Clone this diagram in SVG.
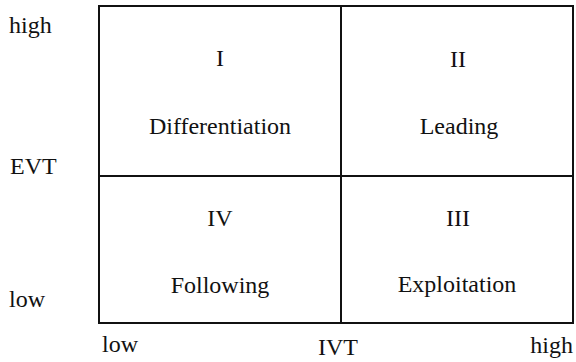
<svg xmlns="http://www.w3.org/2000/svg" width="576" height="362" viewBox="0 0 576 362">
<style>
text{font-family:"Liberation Serif","Times New Roman",serif;font-size:24px;fill:#111}
.c{text-anchor:middle}
.ln{stroke:#111;stroke-width:2;fill:none}
</style>
<rect width="576" height="362" fill="#fff"/>
<g id="grid">
<rect class="ln" x="99" y="6" width="474" height="317"/>
</g>
<g id="connectors">
<line class="ln" x1="341" y1="6" x2="341" y2="323"/>
<line class="ln" x1="99" y1="176" x2="573" y2="176"/>
</g>
<g id="q1"><text class="c" x="220" y="66">I</text><text class="c" x="220" y="134">Differentiation</text></g>
<g id="q2"><text class="c" x="458" y="67">II</text><text class="c" x="459" y="134">Leading</text></g>
<g id="q4"><text class="c" x="220" y="226">IV</text><text class="c" x="220" y="293">Following</text></g>
<g id="q3"><text class="c" x="458" y="226">III</text><text class="c" x="457" y="292">Exploitation</text></g>
<g id="axes">
<text x="9" y="33">high</text>
<text x="10" y="174">EVT</text>
<text x="9" y="307">low</text>
<text x="102" y="352">low</text>
<text class="c" x="338" y="355">IVT</text>
<text x="573" y="353" text-anchor="end">high</text>
</g>
</svg>
